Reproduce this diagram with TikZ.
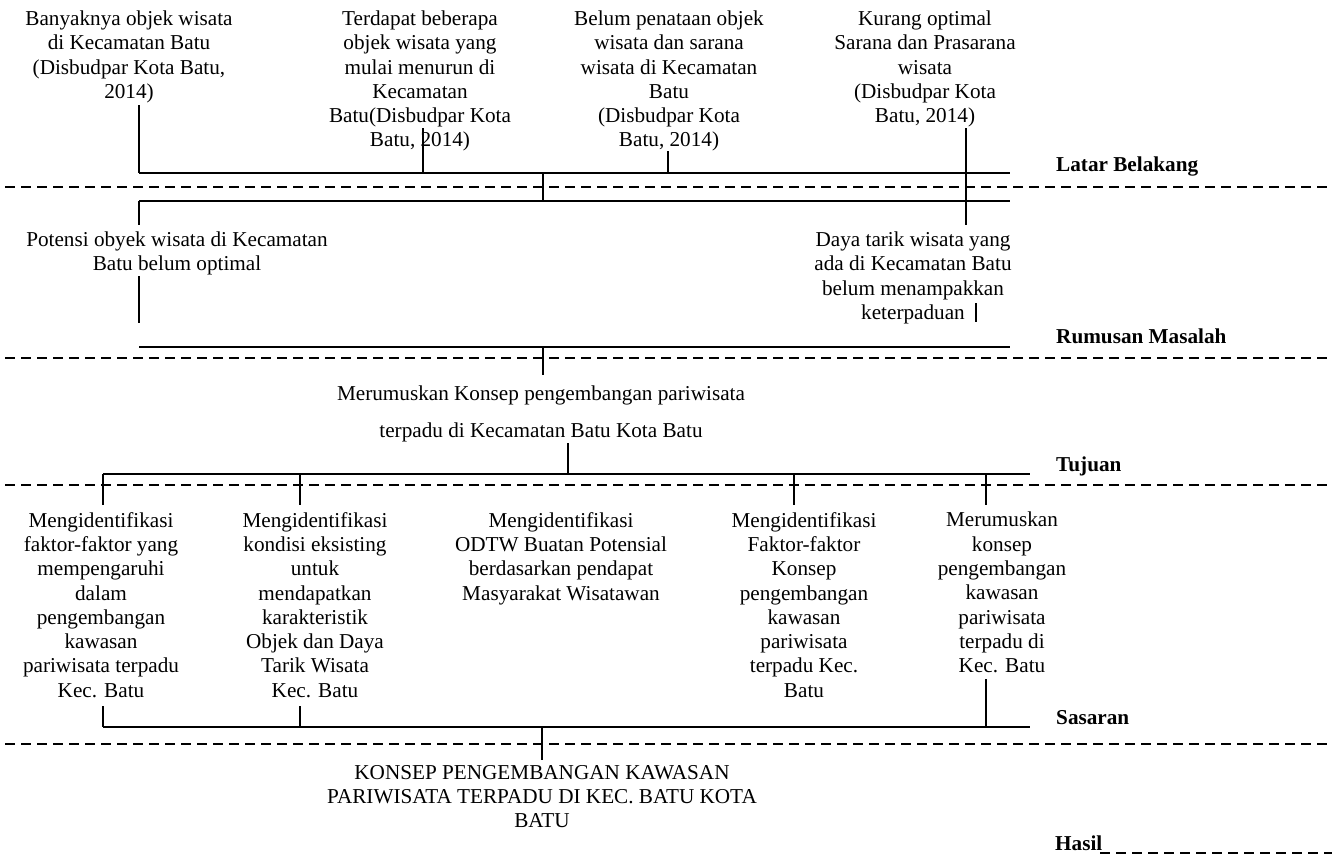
\documentclass[tikz,border=0pt]{standalone}
\usepackage{fontspec}
\setmainfont{Liberation Serif}
\begin{document}
\begin{tikzpicture}[x=1pt,y=-1pt,
  txt/.style={align=center, inner sep=0pt, anchor=north,
    font=\fontsize{21.2}{24.3}\selectfont},
  wide/.style={txt, font=\fontsize{21.2}{37}\selectfont},
  lbl/.style={inner sep=0pt, anchor=base west,
    font=\fontsize{21.2}{24.3}\selectfont\bfseries},
  bus/.style={line width=1.9pt},
  tick/.style={line width=1.5pt},
  sep/.style={line width=1.6pt, dash pattern=on 10pt off 6pt},
]
\fill[white] (0,0) rectangle (1332,859);
\useasboundingbox (0,0) rectangle (1332,859);

% ---------- Latar Belakang ----------
\node[txt] (lb1) at (129,10.5) {Banyaknya objek wisata\\di Kecamatan Batu\\(Disbudpar Kota Batu,\\2014)};
\node[txt] (lb2) at (420,10.5) {Terdapat beberapa\\objek wisata yang\\mulai menurun di\\Kecamatan\\Batu(Disbudpar Kota\\Batu, 2014)};
\node[txt] (lb3) at (669,10.5) {Belum penataan objek\\wisata dan sarana\\wisata di Kecamatan\\Batu\\(Disbudpar Kota\\Batu, 2014)};
\node[txt] (lb4) at (925,10.5) {Kurang optimal\\Sarana dan Prasarana\\wisata\\(Disbudpar Kota\\Batu, 2014)};
\node[lbl] (lLB) at (1056,171) {Latar Belakang};

\coordinate (lbA) at (139,173);
\coordinate (lbB) at (1010,173);
\coordinate (lbC) at (139,201);
\coordinate (lbD) at (1010,201);
\coordinate (lbT1) at (139,105);
\coordinate (lbT2) at (423,128);
\coordinate (lbT3) at (668,151);
\coordinate (lbT4) at (966,128);
\coordinate (lbT4e) at (966,225);
\coordinate (lbM) at (543,173);

\draw[bus] (lbA) -- (lbB);
\draw[bus] (lbC) -- (lbD);
\draw[tick] (lbT1) -- (lbT1 |- lbA);
\draw[tick] (lbT2) -- (lbT2 |- lbA);
\draw[tick] (lbT3) -- (lbT3 |- lbA);
\draw[tick] (lbT4) -- (lbT4e);
\draw[tick] (lbM) -- (lbM |- lbC);
\draw[sep] (5,187) -- (1332,187);

% ---------- Rumusan Masalah ----------
\node[txt] (rm1) at (177,231.5) {Potensi obyek wisata di Kecamatan\\Batu belum optimal};
\node[txt] (rm2) at (913,231.5) {Daya tarik wisata yang\\ada di Kecamatan Batu\\belum menampakkan\\keterpaduan};
\node[lbl] (lRM) at (1056,343) {Rumusan Masalah};

\coordinate (rmA) at (139,347);
\coordinate (rmB) at (1010,347);
\coordinate (rmT1) at (139,225);
\coordinate (rmT1b) at (139,276);
\coordinate (rmT1c) at (139,323);
\coordinate (rmT2) at (976,303);
\coordinate (rmT2b) at (976,322);
\coordinate (rmM) at (543,347);
\coordinate (rmMe) at (543,375);

\draw[tick] (lbC) -- (rmT1);
\draw[tick] (rmT1b) -- (rmT1c);
\draw[tick] (rmT2) -- (rmT2b);
\draw[bus] (rmA) -- (rmB);
\draw[tick] (rmM) -- (rmMe);
\draw[sep] (5,358) -- (1332,358);

% ---------- Tujuan ----------
\node[wide] (tj) at (541,385.5) {Merumuskan Konsep pengembangan pariwisata\\terpadu di Kecamatan Batu Kota Batu};
\node[lbl] (lTJ) at (1056,471) {Tujuan};

\coordinate (tjT) at (568,443);
\coordinate (tjA) at (103,474);
\coordinate (tjB) at (1030,474);
\draw[tick] (tjT) -- (tjT |- tjA);
\draw[bus] (tjA) -- (tjB);
\draw[sep] (5,485) -- (1332,485);

% ---------- Sasaran ----------
\node[txt] (ss1) at (101,512) {Mengidentifikasi\\faktor-faktor yang\\mempengaruhi\\dalam\\pengembangan\\kawasan\\pariwisata terpadu\\Kec. Batu};
\node[txt] (ss2) at (315,512) {Mengidentifikasi\\kondisi eksisting\\untuk\\mendapatkan\\karakteristik\\Objek dan Daya\\Tarik Wisata\\Kec. Batu};
\node[txt] (ss3) at (561,512) {Mengidentifikasi\\ODTW Buatan Potensial\\berdasarkan pendapat\\Masyarakat Wisatawan};
\node[txt] (ss4) at (804,512) {Mengidentifikasi\\Faktor-faktor\\Konsep\\pengembangan\\kawasan\\pariwisata\\terpadu Kec.\\Batu};
\node[txt] (ss5) at (1002,512) {Merumuskan\\konsep\\pengembangan\\kawasan\\pariwisata\\terpadu di\\Kec. Batu};
\node[lbl] (lSS) at (1056,724) {Sasaran};

\coordinate (ssT1) at (103,505);
\coordinate (ssT2) at (300,505);
\coordinate (ssT4) at (794,505);
\coordinate (ssT5) at (986,505);
\draw[tick] (ssT1 |- tjA) -- (ssT1);
\draw[tick] (ssT2 |- tjA) -- (ssT2);
\draw[tick] (ssT4 |- tjA) -- (ssT4);
\draw[tick] (ssT5 |- tjA) -- (ssT5);

\coordinate (ssA) at (103,727);
\coordinate (ssB) at (1030,727);
\coordinate (ssB1) at (103,706);
\coordinate (ssB2) at (300,706);
\coordinate (ssB5) at (986,679);
\draw[tick] (ssB1) -- (ssB1 |- ssA);
\draw[tick] (ssB2) -- (ssB2 |- ssA);
\draw[tick] (ssB5) -- (ssB5 |- ssA);
\draw[bus] (ssA) -- (ssB);
\draw[sep] (5,744) -- (1332,744);

% ---------- Hasil ----------
\coordinate (hsM) at (542,727);
\coordinate (hsMe) at (542,760);
\draw[tick] (hsM) -- (hsMe);
\node[txt] (hs) at (542,765) {KONSEP PENGEMBANGAN KAWASAN\\PARIWISATA TERPADU DI KEC. BATU KOTA\\BATU};
\node[lbl] (lHS) at (1055,850) {Hasil};
\draw[sep] (1100,853) -- (1332,853);
\end{tikzpicture}
\end{document}
